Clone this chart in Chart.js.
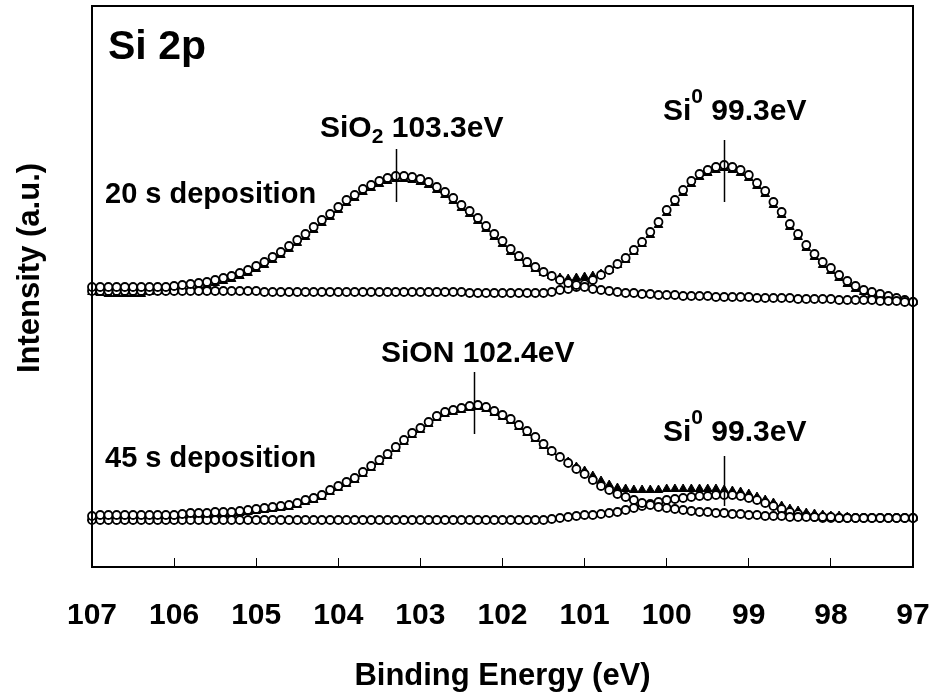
<!DOCTYPE html>
<html>
<head>
<meta charset="utf-8">
<title>Si 2p XPS</title>
<script src="https://cdn.jsdelivr.net/npm/chart.js@4.4.0/dist/chart.umd.min.js"></script>
<style>
  body { margin: 0; background: #fff; }
</style>
</head>
<body>
<canvas id="xps-chart" width="936" height="697"></canvas>
<script>
// binding energy (eV), 107 -> 97 in 0.1 eV steps
var energy = [
  107.0, 106.9, 106.8, 106.7, 106.6, 106.5, 106.4, 106.3, 106.2, 106.1,
  106.0, 105.9, 105.8, 105.7, 105.6, 105.5, 105.4, 105.3, 105.2, 105.1,
  105.0, 104.9, 104.8, 104.7, 104.6, 104.5, 104.4, 104.3, 104.2, 104.1,
  104.0, 103.9, 103.8, 103.7, 103.6, 103.5, 103.4, 103.3, 103.2, 103.1,
  103.0, 102.9, 102.8, 102.7, 102.6, 102.5, 102.4, 102.3, 102.2, 102.1,
  102.0, 101.9, 101.8, 101.7, 101.6, 101.5, 101.4, 101.3, 101.2, 101.1,
  101.0, 100.9, 100.8, 100.7, 100.6, 100.5, 100.4, 100.3, 100.2, 100.1,
  100.0, 99.9, 99.8, 99.7, 99.6, 99.5, 99.4, 99.3, 99.2, 99.1,
  99.0, 98.9, 98.8, 98.7, 98.6, 98.5, 98.4, 98.3, 98.2, 98.1,
  98.0, 97.9, 97.8, 97.7, 97.6, 97.5, 97.4, 97.3, 97.2, 97.1,
  97.0
];

// 20 s deposition (upper spectrum, offset)
var sio2_20s = [
  280, 280, 280, 280, 280, 280, 280, 280, 280, 280,
  281, 282, 283, 284, 285, 287, 289, 291, 294, 297,
  301, 305, 310, 315, 321, 327, 333, 340, 347, 353,
  360, 367, 372, 378, 382, 386, 389, 391, 391, 390,
  388, 385, 380, 375, 369, 362, 356, 349, 341, 333,
  326, 318, 311, 305, 300, 295, 291, 287, 284, 282,
  280, 278, 277, 276, 275, 274, 274, 273, 273, 272,
  272, 272, 271, 271, 271, 271, 270, 270, 270, 270,
  270, 269, 269, 269, 269, 269, 268, 268, 268, 268,
  268, 267, 267, 267, 267, 267, 266, 266, 266, 265,
  265
];
var si0_20s = [
  276, 276, 276, 276, 276, 276, 276, 276, 276, 276,
  276, 276, 276, 276, 276, 276, 276, 276, 276, 276,
  276, 275, 275, 275, 275, 275, 275, 275, 275, 275,
  275, 275, 275, 275, 275, 275, 275, 275, 275, 275,
  275, 275, 275, 275, 275, 275, 274, 274, 274, 274,
  274, 274, 274, 274, 274, 274, 275, 277, 278, 280,
  283, 287, 292, 297, 303, 309, 317, 325, 335, 345,
  357, 367, 377, 386, 393, 397, 400, 402, 400, 397,
  392, 384, 376, 365, 355, 343, 333, 322, 313, 305,
  299, 292, 286, 281, 277, 275, 273, 271, 269, 267,
  265
];
var sum_20s = [
  275, 274, 273, 273, 273, 273, 273, 275, 276, 277,
  278, 279, 280, 281, 282, 284, 286, 288, 291, 294,
  298, 302, 307, 312, 318, 324, 330, 337, 344, 350,
  357, 364, 369, 375, 379, 383, 386, 388, 388, 387,
  385, 382, 377, 372, 366, 359, 353, 346, 338, 330,
  323, 315, 309, 303, 298, 294, 291, 289, 288, 289,
  290, 291, 293, 297, 302, 307, 315, 323, 332, 342,
  354, 364, 374, 383, 390, 394, 397, 399, 397, 394,
  389, 381, 373, 362, 352, 340, 330, 319, 310, 302,
  296, 289, 283, 278, 275, 273, 271, 269, 267, 266,
  265
];

// 45 s deposition (lower spectrum)
var sion_45s = [
  51, 52, 52, 52, 52, 52, 52, 52, 52, 52,
  52, 53, 54, 54, 54, 55, 55, 55, 56, 57,
  58, 59, 60, 61, 62, 64, 67, 69, 72, 77,
  81, 85, 89, 95, 101, 107, 113, 120, 127, 134,
  139, 145, 151, 155, 157, 159, 161, 162, 160, 156,
  152, 148, 142, 136, 130, 123, 116, 110, 104, 98,
  93, 87, 81, 77, 73, 70, 67, 64, 62, 60,
  59, 58, 57, 56, 55, 55, 54, 54, 53, 53,
  52, 52, 51, 51, 51, 50, 50, 50, 50, 50,
  50, 49, 49, 49, 49, 49, 49, 49, 49, 49,
  49
];
var si0_45s = [
  47, 47, 47, 47, 47, 47, 47, 47, 47, 47,
  47, 47, 47, 47, 47, 47, 47, 47, 47, 47,
  47, 47, 47, 47, 47, 47, 47, 47, 47, 47,
  47, 47, 47, 47, 47, 47, 47, 47, 47, 47,
  47, 47, 47, 47, 47, 47, 47, 47, 47, 47,
  47, 47, 47, 47, 47, 47, 48, 49, 50, 51,
  52, 52, 53, 54, 55, 57, 59, 61, 63, 65,
  67, 68, 69, 70, 71, 71, 72, 72, 72, 71,
  69, 67, 64, 61, 58, 55, 53, 51, 50, 49,
  49, 49, 49, 49, 49, 49, 49, 49, 49, 49,
  49
];
var sum_45s = [
  49, 50, 50, 50, 50, 50, 50, 50, 50, 50,
  50, 51, 52, 52, 52, 53, 53, 53, 54, 55,
  56, 57, 58, 59, 60, 62, 65, 67, 70, 75,
  79, 83, 87, 93, 99, 105, 111, 118, 125, 132,
  137, 143, 149, 153, 155, 157, 159, 160, 158, 154,
  150, 146, 140, 134, 128, 121, 115, 110, 105, 100,
  96, 91, 86, 82, 79, 78, 77, 77, 77, 77,
  78, 78, 78, 78, 78, 78, 78, 77, 76, 75,
  73, 70, 67, 64, 61, 58, 56, 54, 53, 52,
  51, 51, 50, 49, 49, 49, 49, 49, 49, 49,
  49
];

var xTicks = [107, 106, 105, 104, 103, 102, 101, 100, 99, 98, 97];

// vertical peak markers, in data units
var peakMarks = [
  { e: 103.3, from: 365, to: 418 },
  { e: 99.3, from: 365, to: 427 },
  { e: 102.35, from: 133, to: 195 },
  { e: 99.3, from: 61, to: 111 }
];

function pts(vals) {
  return vals.map(function (v, i) { return { x: energy[i], y: v }; });
}

var FONT = '"Liberation Sans", Arial, sans-serif';

function circles(vals) {
  return {
    data: pts(vals), showLine: false, clip: false, order: 0,
    pointStyle: 'circle', pointRadius: 4, pointBorderWidth: 1.8,
    pointBorderColor: '#000', pointBackgroundColor: '#fff'
  };
}
function triangles(vals) {
  return {
    data: pts(vals), showLine: false, clip: false, order: 1,
    pointStyle: 'triangle', pointRadius: 5, pointBorderWidth: 1,
    pointBorderColor: '#000', pointBackgroundColor: '#000'
  };
}

function drawParts(ctx, x, y, parts) {
  parts.forEach(function (p) {
    ctx.font = 'bold ' + p[1] + 'px ' + FONT;
    ctx.fillText(p[0], x, y + p[2]);
    x += ctx.measureText(p[0]).width;
  });
}

var decorations = {
  id: 'decorations',
  afterDatasetsDraw: function (chart) {
    var ctx = chart.ctx, xs = chart.scales.x, ys = chart.scales.y, a = chart.chartArea;
    ctx.save();
    ctx.strokeStyle = '#000';
    ctx.lineWidth = 1.5;
    peakMarks.forEach(function (m) {
      var px = Math.round(xs.getPixelForValue(m.e)) + 0.5;
      ctx.beginPath();
      ctx.moveTo(px, ys.getPixelForValue(m.from));
      ctx.lineTo(px, ys.getPixelForValue(m.to));
      ctx.stroke();
    });

    ctx.lineWidth = 2;
    ctx.strokeRect(a.left, a.top, a.right - a.left, a.bottom - a.top);

    ctx.fillStyle = '#000';
    ctx.textBaseline = 'alphabetic';
    ctx.textAlign = 'left';
    drawParts(ctx, 108, 59, [['Si 2p', 41, 0]]);
    drawParts(ctx, 105, 203, [['20 s deposition', 29, 0]]);
    drawParts(ctx, 105, 467, [['45 s deposition', 29, 0]]);
    drawParts(ctx, 320, 137, [['SiO', 30, 0], ['2', 21, 6], [' 103.3eV', 30, 0]]);
    drawParts(ctx, 663, 120, [['Si', 30, 0], ['0', 21, -17], [' 99.3eV', 30, 0]]);
    drawParts(ctx, 381, 362, [['SiON 102.4eV', 30, 0]]);
    drawParts(ctx, 663, 441, [['Si', 30, 0], ['0', 21, -17], [' 99.3eV', 30, 0]]);

    ctx.translate(30, 268);
    ctx.rotate(-Math.PI / 2);
    ctx.textAlign = 'center';
    ctx.textBaseline = 'middle';
    ctx.font = 'bold 31px ' + FONT;
    ctx.fillText('Intensity (a.u.)', 0, 0);
    ctx.restore();
  }
};

new Chart(document.getElementById('xps-chart'), {
  type: 'scatter',
  data: {
    datasets: [
      circles(sio2_20s), circles(si0_20s), triangles(sum_20s),
      circles(sion_45s), circles(si0_45s), triangles(sum_45s)
    ]
  },
  options: {
    responsive: false,
    animation: false,
    devicePixelRatio: 1,
    layout: { padding: { left: 92, right: 23, top: 6, bottom: 0 } },
    plugins: { legend: { display: false }, tooltip: { enabled: false } },
    scales: {
      x: {
        type: 'linear', reverse: true, min: 97, max: 107,
        afterBuildTicks: function (s) { s.ticks = xTicks.map(function (v) { return { value: v }; }); },
        afterFit: function (s) { s.height = 130; s.paddingLeft = 0; s.paddingRight = 0; },
        ticks: { color: '#000', padding: 40, maxRotation: 0, autoSkip: false,
                 font: { family: FONT, size: 30, weight: 'bold' } },
        grid: { drawOnChartArea: false, tickLength: -9, color: '#000', lineWidth: 1 },
        border: { display: true, color: '#000', width: 2 },
        title: { display: true, text: 'Binding Energy (eV)', color: '#000',
                 padding: { top: 0, bottom: 2 }, font: { family: FONT, size: 31, weight: 'bold' } }
      },
      y: { display: false, min: 0, max: 561 }
    }
  },
  plugins: [decorations]
});
</script>
</body>
</html>
